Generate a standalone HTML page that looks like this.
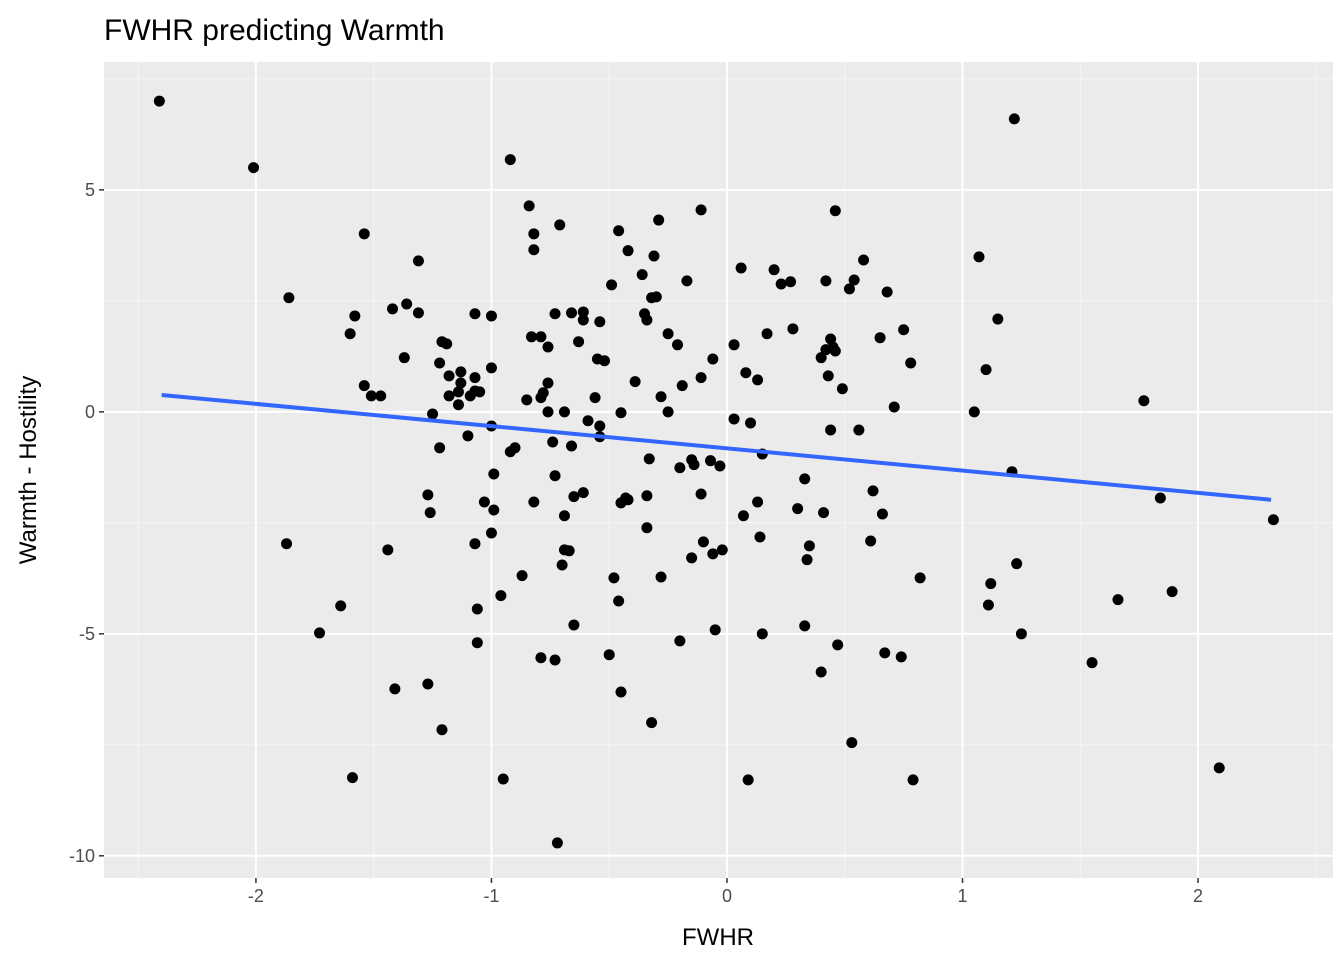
<!DOCTYPE html>
<html><head><meta charset="utf-8"><style>
html,body{margin:0;padding:0;background:#fff;}
svg{display:block;font-family:"Liberation Sans",Arial,sans-serif;}
</style></head><body>
<svg id="chart" width="1344" height="960" viewBox="0 0 1344 960" xmlns="http://www.w3.org/2000/svg">
<text x="104" y="40" font-size="30" fill="#000">FWHR predicting Warmth</text>
<rect x="104" y="62" width="1229" height="816" fill="#ebebeb"/>
<g id="grid"></g>
<g id="pts"></g>
<g id="fit"></g>
<g id="axes"></g>
<text x="718" y="945" font-size="24" text-anchor="middle" fill="#000">FWHR</text>
<text transform="translate(36,470) rotate(-90)" font-size="24" text-anchor="middle" fill="#000">Warmth - Hostility</text>
</svg>
<script>
const xs = [-2.41,-2.01,1.22,-0.92,-0.84,-1.54,-0.71,-0.11,-0.46,-0.29,0.46,-1.86,-0.82,-0.82,-0.42,-0.31,-1.31,1.07,0.58,-0.36,-0.17,0.06,0.20,0.23,0.27,0.42,0.54,0.52,0.68,-0.49,-0.32,-0.30,-0.61,-0.73,-0.66,-0.61,-0.54,-0.35,-0.34,-1.42,-1.36,-1.31,-1.58,1.15,-1.07,-1.00,-1.60,0.17,0.28,0.44,0.75,0.65,-0.25,-0.63,-0.83,-0.79,-1.21,-1.19,-0.21,0.03,0.45,0.42,0.46,-1.37,-1.22,-0.76,-0.55,-0.52,-0.06,0.40,0.78,1.10,-1.00,-1.18,-1.13,-1.07,-1.13,-1.14,-1.54,-1.51,-1.47,-1.05,-1.18,-1.14,-1.09,-1.07,-0.76,-0.78,-0.79,-0.85,0.08,0.13,-0.11,0.49,0.43,-0.19,-0.28,-0.56,-0.39,1.77,0.71,-0.76,-0.69,-0.45,-0.25,1.05,-1.25,0.03,0.10,-0.59,-0.54,-0.54,-1.00,-1.10,0.56,0.44,-1.22,-0.90,-0.92,-0.74,-0.66,-0.33,-0.15,-0.14,-0.07,-0.03,-0.20,0.15,1.21,-0.99,-0.73,-1.27,-1.03,-0.99,-0.82,-0.65,-0.61,-0.34,-0.11,0.33,0.62,-1.26,-0.69,-0.43,-0.42,-0.45,1.84,0.13,0.30,0.41,0.66,0.07,2.32,-0.34,-1.00,-1.07,-1.87,-1.44,0.14,-0.10,-0.02,-0.06,0.35,0.34,0.61,-0.69,-0.67,-0.70,-0.87,-0.48,-0.28,-0.15,1.23,0.82,1.12,-0.96,-0.46,1.89,1.66,1.11,-1.06,-1.64,-1.73,-0.65,-0.05,0.33,0.15,1.25,-1.06,-0.20,0.47,-0.79,-0.73,-0.50,0.67,0.74,1.55,-1.41,-1.27,-0.45,0.40,-0.32,-1.21,0.53,-1.59,-0.95,0.09,0.79,2.09,-0.72];
const ys = [7.00,5.50,6.60,5.68,4.64,4.01,4.21,4.55,4.08,4.32,4.53,2.57,4.01,3.65,3.63,3.51,3.40,3.49,3.42,3.09,2.95,3.24,3.20,2.88,2.93,2.95,2.97,2.77,2.70,2.86,2.57,2.59,2.25,2.21,2.23,2.07,2.03,2.21,2.07,2.32,2.43,2.23,2.16,2.09,2.21,2.16,1.76,1.76,1.87,1.64,1.85,1.67,1.76,1.58,1.69,1.69,1.58,1.53,1.51,1.51,1.46,1.40,1.37,1.22,1.10,1.46,1.19,1.15,1.19,1.22,1.10,0.95,0.99,0.81,0.90,0.77,0.65,0.45,0.59,0.36,0.36,0.45,0.36,0.16,0.36,0.47,0.65,0.43,0.32,0.27,0.88,0.72,0.77,0.52,0.81,0.59,0.34,0.32,0.68,0.25,0.11,0,0,-0.02,0,0,-0.05,-0.16,-0.25,-0.20,-0.32,-0.56,-0.32,-0.54,-0.41,-0.41,-0.81,-0.81,-0.90,-0.68,-0.77,-1.06,-1.08,-1.19,-1.10,-1.22,-1.26,-0.95,-1.35,-1.40,-1.44,-1.87,-2.03,-2.21,-2.03,-1.91,-1.82,-1.89,-1.85,-1.51,-1.78,-2.27,-2.34,-1.94,-1.98,-2.05,-1.94,-2.03,-2.18,-2.27,-2.30,-2.34,-2.43,-2.61,-2.73,-2.97,-2.97,-3.11,-2.82,-2.93,-3.11,-3.20,-3.02,-3.33,-2.91,-3.11,-3.13,-3.45,-3.69,-3.74,-3.72,-3.29,-3.42,-3.74,-3.87,-4.14,-4.26,-4.05,-4.23,-4.35,-4.44,-4.37,-4.98,-4.80,-4.91,-4.82,-5.00,-5.00,-5.20,-5.16,-5.25,-5.54,-5.59,-5.47,-5.43,-5.52,-5.65,-6.24,-6.13,-6.31,-5.86,-7.00,-7.16,-7.45,-8.24,-8.27,-8.29,-8.29,-8.02,-9.71];
const fitX = [-2.40, 2.31];
const fitY = [0.38, -1.98];
const xTicks = [-2,-1,0,1,2];
const xTickLabels = ["-2","-1","0","1","2"];
const yTicks = [5,0,-5,-10];
const yTickLabels = ["5","0","-5","-10"];

const L=104,R=1333,T=62,B=878;
const xmin=-2.645,xmax=2.573,ymin=-10.50,ymax=7.88;
const sx=v=>L+(v-xmin)/(xmax-xmin)*(R-L);
const sy=v=>B-(v-ymin)/(ymax-ymin)*(B-T);
const NS="http://www.w3.org/2000/svg";
function mk(tag,attrs,parent){const e=document.createElementNS(NS,tag);for(const k in attrs)e.setAttribute(k,attrs[k]);parent.appendChild(e);return e;}
const grid=document.getElementById('grid');
// minor grid
for(let i=0;i<xTicks.length-1;i++){const m=(xTicks[i]+xTicks[i+1])/2;const g=mk('line',{x1:sx(m),x2:sx(m),y1:T,y2:B,stroke:'#f5f5f5','stroke-width':1},grid);

}
[-2.5,2.5].forEach(m=>{const g=mk('line',{x1:sx(m),x2:sx(m),y1:T,y2:B,stroke:'#f5f5f5','stroke-width':1},grid);

});
[7.5,2.5,-2.5,-7.5].forEach(m=>{const g=mk('line',{x1:L,x2:R,y1:sy(m),y2:sy(m),stroke:'#f5f5f5','stroke-width':1},grid);

});
const axes=document.getElementById('axes');
xTicks.forEach((v,i)=>{const g=mk('line',{x1:sx(v),x2:sx(v),y1:T,y2:B,stroke:'#fff','stroke-width':2},grid);


const t=mk('line',{x1:sx(v),x2:sx(v),y1:B,y2:B+5,stroke:'#333','stroke-width':1.5},axes);


const lb=mk('text',{x:sx(v),y:B+24,'font-size':18,'text-anchor':'middle',fill:'#4d4d4d'},axes);lb.textContent=xTickLabels[i];

});
yTicks.forEach((v,i)=>{const g=mk('line',{x1:L,x2:R,y1:sy(v),y2:sy(v),stroke:'#fff','stroke-width':2},grid);


const t=mk('line',{x1:L-5,x2:L,y1:sy(v),y2:sy(v),stroke:'#333','stroke-width':1.5},axes);


const lb=mk('text',{x:L-9,y:sy(v)+6,'font-size':18,'text-anchor':'end',fill:'#4d4d4d'},axes);lb.textContent=yTickLabels[i];

});
const pts=document.getElementById('pts');
xs.forEach((x,i)=>{const c=mk('circle',{cx:sx(x),cy:sy(ys[i]),r:5.5,fill:'#000'},pts);

});
const fit=document.getElementById('fit');
const ln=mk('line',{x1:sx(fitX[0]),y1:sy(fitY[0]),x2:sx(fitX[1]),y2:sy(fitY[1]),stroke:'#3366FF','stroke-width':4},fit);


</script>
</body></html>
